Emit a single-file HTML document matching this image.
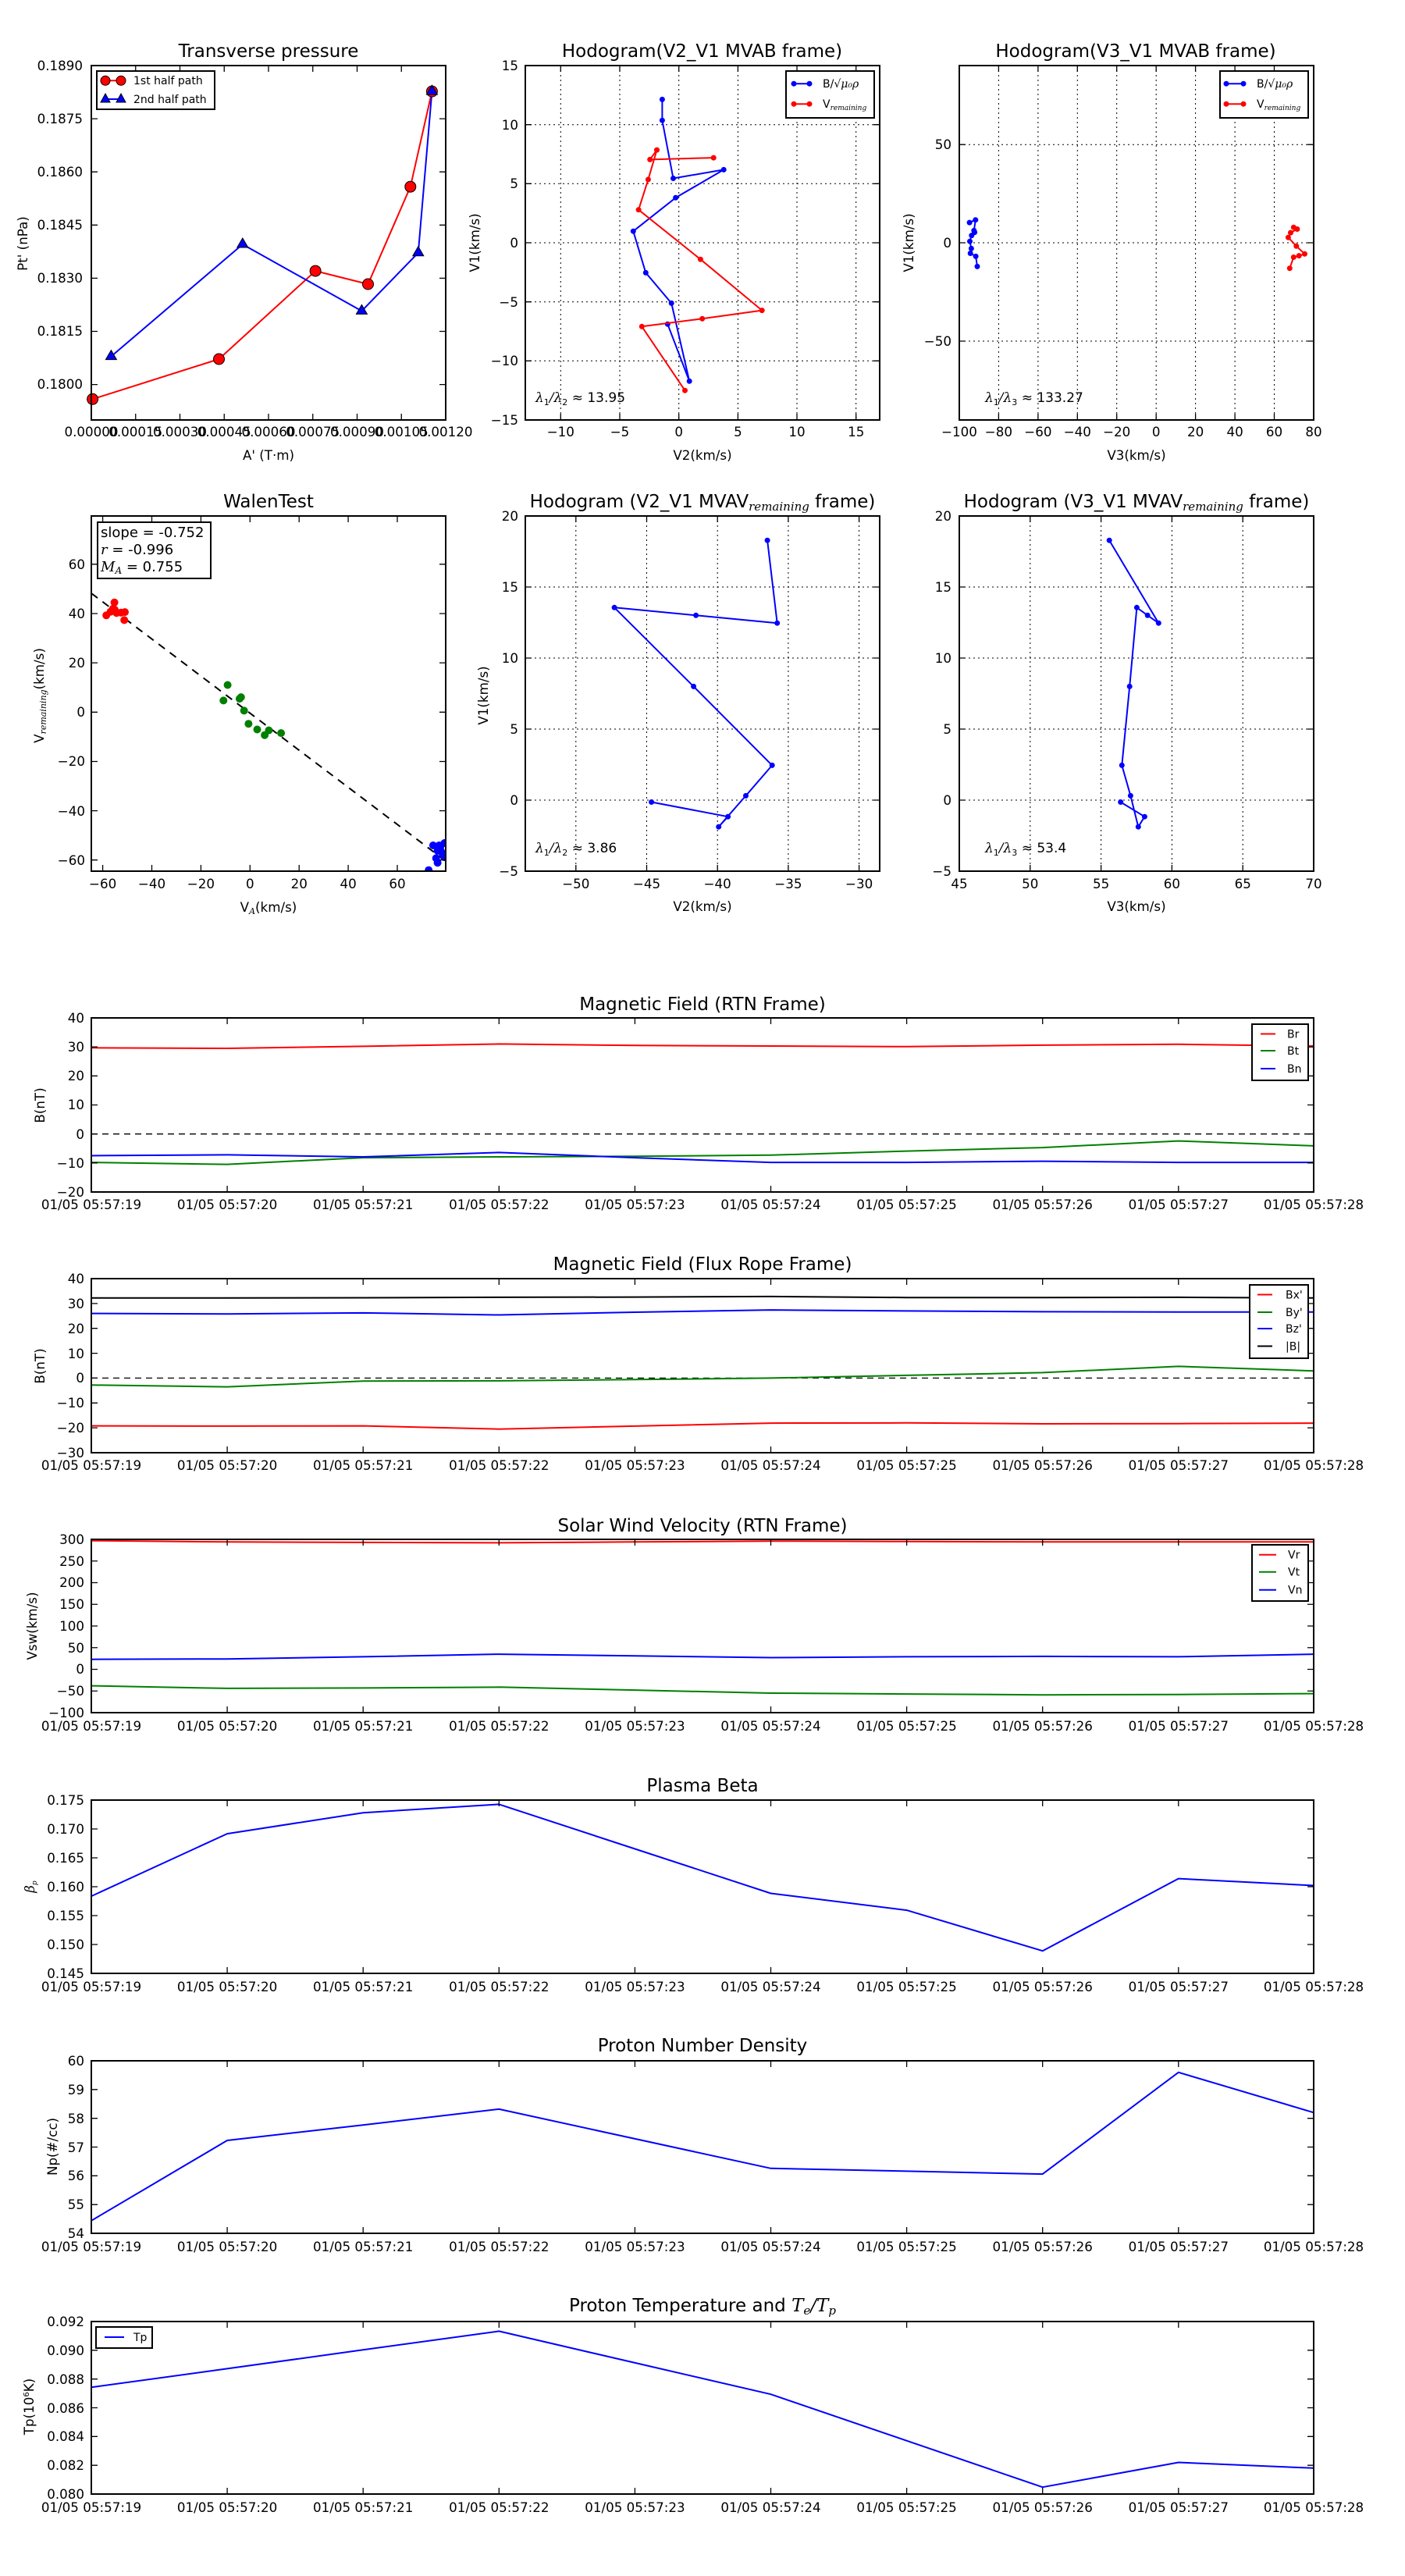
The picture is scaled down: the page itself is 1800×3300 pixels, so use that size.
<!DOCTYPE html>
<html><head><meta charset="utf-8"><style>
html,body{margin:0;padding:0;background:#fff}
svg{display:block}
text{font-family:"DejaVu Sans","Liberation Sans",sans-serif;fill:#000}
.t{font-size:23px;text-anchor:middle}
.k{font-size:16.7px}
.km{font-size:16.7px;text-anchor:middle}
.kr{font-size:16.7px;text-anchor:end}
.lb{font-size:16.7px;text-anchor:middle}
.fr{fill:none;stroke:#000;stroke-width:2}
.tk{fill:none;stroke:#000;stroke-width:1.3}
.gr{fill:none;stroke:#000;stroke-width:1;stroke-dasharray:2,4}
.s{fill:none;stroke-width:2;stroke-linejoin:round}
.m{font-family:"DejaVu Serif",serif;font-style:italic}
</style></head><body>
<svg width="1800" height="3300" viewBox="0 0 1800 3300" xmlns="http://www.w3.org/2000/svg">
<rect width="1800" height="3300" fill="#fff"/>

<!-- ===== Plot 1: Transverse pressure ===== -->
<text class="t" x="344" y="73">Transverse pressure</text>
<polyline class="s" stroke="#f00" points="118.6,511.3 280.5,460 404.1,347.1 471.5,364 525.8,239.2 553.4,117.1"/>
<polyline class="s" stroke="#00f" points="142.4,456.6 310.8,313 463.4,398.4 535.8,323.8 553.4,117.1"/>
<g fill="#f00" stroke="#000" stroke-width="1">
<circle cx="118.6" cy="511.3" r="7"/><circle cx="280.5" cy="460" r="7"/><circle cx="404.1" cy="347.1" r="7"/><circle cx="471.5" cy="364" r="7"/><circle cx="525.8" cy="239.2" r="7"/><circle cx="553.4" cy="117.1" r="7"/>
</g>
<g fill="#00f" stroke="#000" stroke-width="1">
<path d="M142.4,448.6 l7,12 h-14z"/><path d="M310.8,305 l7,12 h-14z"/><path d="M463.4,390.4 l7,12 h-14z"/><path d="M535.8,315.8 l7,12 h-14z"/><path d="M553.4,109.1 l7,12 h-14z"/>
</g>
<rect x="117" y="84" width="454" height="454" class="fr"/>
<path class="tk" d="M173.75,84v8M230.5,84v8M287.25,84v8M344,84v8M400.75,84v8M457.5,84v8M514.25,84v8M173.75,538v-8M230.5,538v-8M287.25,538v-8M344,538v-8M400.75,538v-8M457.5,538v-8M514.25,538v-8M117,152.1h8M117,220.2h8M117,288.3h8M117,356.4h8M117,424.5h8M117,492.6h8M571,152.1h-8M571,220.2h-8M571,288.3h-8M571,356.4h-8M571,424.5h-8M571,492.6h-8"/>
<g class="kr"><text x="106" y="90">0.1890</text><text x="106" y="158">0.1875</text><text x="106" y="226">0.1860</text><text x="106" y="294">0.1845</text><text x="106" y="362">0.1830</text><text x="106" y="430">0.1815</text><text x="106" y="498">0.1800</text></g>
<g class="km"><text x="117" y="559">0.00000</text><text x="173.75" y="559">0.00015</text><text x="230.5" y="559">0.00030</text><text x="287.25" y="559">0.00045</text><text x="344" y="559">0.00060</text><text x="400.75" y="559">0.00075</text><text x="457.5" y="559">0.00090</text><text x="514.25" y="559">0.00105</text><text x="571" y="559">0.00120</text></g>
<text class="lb" x="344" y="589">A' (T·m)</text>
<text class="lb" transform="translate(35,312) rotate(-90)">Pt' (nPa)</text>
<rect x="124" y="91" width="151" height="49" fill="#fff" stroke="#000" stroke-width="2"/>
<path d="M135,103.3h20M135,127h20" stroke="#f00" stroke-width="2"/>
<path d="M135,127h20" stroke="#00f" stroke-width="2"/>
<circle cx="135" cy="103.3" r="6" fill="#f00" stroke="#000"/><circle cx="155" cy="103.3" r="6" fill="#f00" stroke="#000"/>
<path d="M135,120 l6,11 h-12z M155,120 l6,11 h-12z" fill="#00f" stroke="#000"/>
<text x="171" y="108" font-size="14">1st half path</text>
<text x="171" y="132" font-size="14">2nd half path</text>

<!-- ===== Plot 2: Hodogram V2_V1 MVAB ===== -->
<text class="t" x="899.5" y="73">Hodogram(V2_V1 MVAB frame)</text>
<path class="gr" d="M718.3,84V538M794,84V538M869.7,84V538M945.4,84V538M1021,84V538M1096.7,84V538M673,159.7H1127M673,235.3H1127M673,311H1127M673,386.7H1127M673,462.3H1127"/>
<polyline class="s" stroke="#00f" points="848.4,127.4 848.4,154.2 862.5,228.5 927.2,217.4 865.6,253.3 811.3,296.2 827.3,349.4 860.2,388.4 883.2,488.3 855.3,415.2"/>
<g fill="#00f"><circle cx="848.4" cy="127.4" r="3.5"/><circle cx="848.4" cy="154.2" r="3.5"/><circle cx="862.5" cy="228.5" r="3.5"/><circle cx="927.2" cy="217.4" r="3.5"/><circle cx="865.6" cy="253.3" r="3.5"/><circle cx="811.3" cy="296.2" r="3.5"/><circle cx="827.3" cy="349.4" r="3.5"/><circle cx="860.2" cy="388.4" r="3.5"/><circle cx="883.2" cy="488.3" r="3.5"/><circle cx="855.3" cy="415.2" r="3.5"/></g>
<polyline class="s" stroke="#f00" points="914.2,202.1 832.7,204.4 841.5,192.1 830.4,230 818.1,268.7 897.4,332.2 976.2,397.6 899.7,408.3 822.3,418.3 877.5,500.2"/>
<g fill="#f00"><circle cx="914.2" cy="202.1" r="3.5"/><circle cx="832.7" cy="204.4" r="3.5"/><circle cx="841.5" cy="192.1" r="3.5"/><circle cx="830.4" cy="230" r="3.5"/><circle cx="818.1" cy="268.7" r="3.5"/><circle cx="897.4" cy="332.2" r="3.5"/><circle cx="976.2" cy="397.6" r="3.5"/><circle cx="899.7" cy="408.3" r="3.5"/><circle cx="822.3" cy="418.3" r="3.5"/><circle cx="877.5" cy="500.2" r="3.5"/></g>
<rect x="673" y="84" width="454" height="454" class="fr"/>
<path class="tk" d="M718.3,84v8M794,84v8M869.7,84v8M945.4,84v8M1021,84v8M1096.7,84v8M718.3,538v-8M794,538v-8M869.7,538v-8M945.4,538v-8M1021,538v-8M1096.7,538v-8M673,159.7h8M673,235.3h8M673,311h8M673,386.7h8M673,462.3h8M1127,159.7h-8M1127,235.3h-8M1127,311h-8M1127,386.7h-8M1127,462.3h-8"/>
<g class="kr"><text x="664" y="90">15</text><text x="664" y="166">10</text><text x="664" y="241">5</text><text x="664" y="317">0</text><text x="664" y="393">−5</text><text x="664" y="468">−10</text><text x="664" y="544">−15</text></g>
<g class="km"><text x="718.3" y="559">−10</text><text x="794" y="559">−5</text><text x="869.7" y="559">0</text><text x="945.4" y="559">5</text><text x="1021" y="559">10</text><text x="1096.7" y="559">15</text></g>
<text class="lb" x="900" y="589">V2(km/s)</text>
<text class="lb" transform="translate(614,311) rotate(-90)">V1(km/s)</text>
<text x="686" y="515" font-size="17"><tspan class="m">λ</tspan><tspan font-size="11" dy="4">1</tspan><tspan class="m" dy="-4">/λ</tspan><tspan font-size="11" dy="4">2</tspan><tspan dy="-4"> ≈ 13.95</tspan></text>
<rect x="1007" y="91" width="113" height="60" fill="#fff" stroke="#000" stroke-width="2"/>
<path d="M1017,107.2h20" stroke="#00f" stroke-width="2"/><circle cx="1017" cy="107.2" r="3.5" fill="#00f"/><circle cx="1037" cy="107.2" r="3.5" fill="#00f"/>
<path d="M1017,133.2h20" stroke="#f00" stroke-width="2"/><circle cx="1017" cy="133.2" r="3.5" fill="#f00"/><circle cx="1037" cy="133.2" r="3.5" fill="#f00"/>
<text x="1054" y="112" font-size="14">B/<tspan class="m">√μ₀ρ</tspan></text>
<text x="1054" y="138" font-size="14">V<tspan class="m" font-size="9" dy="3">remaining</tspan></text>

<!-- ===== Plot 3: Hodogram V3_V1 MVAB ===== -->
<text class="t" x="1455" y="73">Hodogram(V3_V1 MVAB frame)</text>
<path class="gr" d="M1279.4,84V538M1329.9,84V538M1380.3,84V538M1430.7,84V538M1481.2,84V538M1531.6,84V538M1582.1,84V538M1632.5,84V538M1229,185.2H1683M1229,311H1683M1229,437H1683"/>
<polyline class="s" stroke="#00f" points="1242.1,285.1 1249.8,281.7 1247.8,295.4 1248.6,297.7 1244.8,301.6 1242.5,309.2 1244.4,318.4 1243.2,324.5 1250.1,328.4 1252,341.4"/>
<g fill="#00f"><circle cx="1242.1" cy="285.1" r="3.5"/><circle cx="1249.8" cy="281.7" r="3.5"/><circle cx="1247.8" cy="295.4" r="3.5"/><circle cx="1248.6" cy="297.7" r="3.5"/><circle cx="1244.8" cy="301.6" r="3.5"/><circle cx="1242.5" cy="309.2" r="3.5"/><circle cx="1244.4" cy="318.4" r="3.5"/><circle cx="1243.2" cy="324.5" r="3.5"/><circle cx="1250.1" cy="328.4" r="3.5"/><circle cx="1252" cy="341.4" r="3.5"/></g>
<polyline class="s" stroke="#f00" points="1657.3,291.2 1661.9,293.5 1653.5,298.1 1650.4,304.2 1660.8,315.3 1671.5,325.3 1664.2,327.6 1657.3,329.5 1652.3,343.7"/>
<g fill="#f00"><circle cx="1657.3" cy="291.2" r="3.5"/><circle cx="1661.9" cy="293.5" r="3.5"/><circle cx="1653.5" cy="298.1" r="3.5"/><circle cx="1650.4" cy="304.2" r="3.5"/><circle cx="1660.8" cy="315.3" r="3.5"/><circle cx="1671.5" cy="325.3" r="3.5"/><circle cx="1664.2" cy="327.6" r="3.5"/><circle cx="1657.3" cy="329.5" r="3.5"/><circle cx="1652.3" cy="343.7" r="3.5"/></g>
<rect x="1229" y="84" width="454" height="454" class="fr"/>
<path class="tk" d="M1279.4,84v8M1329.9,84v8M1380.3,84v8M1430.7,84v8M1481.2,84v8M1531.6,84v8M1582.1,84v8M1632.5,84v8M1279.4,538v-8M1329.9,538v-8M1380.3,538v-8M1430.7,538v-8M1481.2,538v-8M1531.6,538v-8M1582.1,538v-8M1632.5,538v-8M1229,185.2h8M1229,311h8M1229,437h8M1683,185.2h-8M1683,311h-8M1683,437h-8"/>
<g class="kr"><text x="1219" y="191">50</text><text x="1219" y="317">0</text><text x="1219" y="443">−50</text></g>
<g class="km"><text x="1229" y="559">−100</text><text x="1279.4" y="559">−80</text><text x="1329.9" y="559">−60</text><text x="1380.3" y="559">−40</text><text x="1430.7" y="559">−20</text><text x="1481.2" y="559">0</text><text x="1531.6" y="559">20</text><text x="1582.1" y="559">40</text><text x="1632.5" y="559">60</text><text x="1683" y="559">80</text></g>
<text class="lb" x="1456" y="589">V3(km/s)</text>
<text class="lb" transform="translate(1170,311) rotate(-90)">V1(km/s)</text>
<text x="1262" y="515" font-size="17"><tspan class="m">λ</tspan><tspan font-size="11" dy="4">1</tspan><tspan class="m" dy="-4">/λ</tspan><tspan font-size="11" dy="4">3</tspan><tspan dy="-4"> ≈ 133.27</tspan></text>
<rect x="1563" y="91" width="113" height="60" fill="#fff" stroke="#000" stroke-width="2"/>
<path d="M1571,107.2h22" stroke="#00f" stroke-width="2"/><circle cx="1571" cy="107.2" r="3.5" fill="#00f"/><circle cx="1593" cy="107.2" r="3.5" fill="#00f"/>
<path d="M1571,133.2h22" stroke="#f00" stroke-width="2"/><circle cx="1571" cy="133.2" r="3.5" fill="#f00"/><circle cx="1593" cy="133.2" r="3.5" fill="#f00"/>
<text x="1610" y="112" font-size="14">B/<tspan class="m">√μ₀ρ</tspan></text>
<text x="1610" y="138" font-size="14">V<tspan class="m" font-size="9" dy="3">remaining</tspan></text>

<!-- ===== Walen test ===== -->
<text class="t" x="344" y="650">WalenTest</text>
<svg x="117" y="661" width="454" height="455" overflow="hidden">
<line x1="0" y1="99" x2="454" y2="442" stroke="#000" stroke-width="2" stroke-dasharray="10,8"/>
<g fill="#f00" transform="translate(-117,-661)"><circle cx="136.2" cy="788.3" r="5"/><circle cx="146.6" cy="771.8" r="5"/><circle cx="144.7" cy="779.9" r="5"/><circle cx="141.6" cy="783.7" r="5"/><circle cx="149.3" cy="785.2" r="5"/><circle cx="155" cy="784.8" r="5"/><circle cx="160" cy="784.1" r="5"/><circle cx="159.2" cy="794.4" r="5"/><circle cx="147" cy="781" r="5"/></g>
<g fill="#008000" transform="translate(-117,-661)"><circle cx="291.6" cy="877.5" r="5"/><circle cx="286.3" cy="897.4" r="5"/><circle cx="306.9" cy="895.1" r="5"/><circle cx="308.8" cy="893.1" r="5"/><circle cx="312.7" cy="910.4" r="5"/><circle cx="318.4" cy="927.2" r="5"/><circle cx="329.5" cy="934.5" r="5"/><circle cx="339.1" cy="941.7" r="5"/><circle cx="344.4" cy="935.6" r="5"/><circle cx="360.1" cy="939.1" r="5"/></g>
<g fill="#00f" transform="translate(-117,-661)"><circle cx="554.9" cy="1083" r="5"/><circle cx="562.6" cy="1083" r="5"/><circle cx="569.5" cy="1080" r="5"/><circle cx="560.6" cy="1089.9" r="5"/><circle cx="566" cy="1092" r="5"/><circle cx="558.7" cy="1099.4" r="5"/><circle cx="560.6" cy="1105.2" r="5"/><circle cx="569" cy="1098" r="5"/><circle cx="549.2" cy="1114.7" r="5"/><circle cx="564" cy="1086" r="5"/></g>
</svg>
<rect x="117" y="661" width="454" height="455" class="fr"/>
<path class="tk" d="M131.6,661v8M194.5,661v8M257.4,661v8M320.3,661v8M383.2,661v8M446.1,661v8M509,661v8M131.6,1116v-8M194.5,1116v-8M257.4,1116v-8M320.3,1116v-8M383.2,1116v-8M446.1,1116v-8M509,1116v-8M117,722.8h8M117,786h8M117,849.1h8M117,912.3h8M117,975.5h8M117,1038.6h8M117,1101.7h8M571,722.8h-8M571,786h-8M571,849.1h-8M571,912.3h-8M571,975.5h-8M571,1038.6h-8M571,1101.7h-8"/>
<g class="kr"><text x="109" y="729">60</text><text x="109" y="792">40</text><text x="109" y="855">20</text><text x="109" y="918">0</text><text x="109" y="981">−20</text><text x="109" y="1045">−40</text><text x="109" y="1108">−60</text></g>
<g class="km"><text x="131.6" y="1138">−60</text><text x="194.5" y="1138">−40</text><text x="257.4" y="1138">−20</text><text x="320.3" y="1138">0</text><text x="383.2" y="1138">20</text><text x="446.1" y="1138">40</text><text x="509" y="1138">60</text></g>
<text class="lb" x="344" y="1168">V<tspan class="m" font-size="11" dy="3">A</tspan><tspan dy="-3">(km/s)</tspan></text>
<text class="lb" transform="translate(56,891) rotate(-90)">V<tspan class="m" font-size="11" dy="3">remaining</tspan><tspan dy="-3">(km/s)</tspan></text>
<rect x="125" y="669" width="145" height="72" fill="#fff" stroke="#000" stroke-width="2"/>
<text x="129" y="688" font-size="18">slope = -0.752</text>
<text x="129" y="710" font-size="18"><tspan class="m">r</tspan> = -0.996</text>
<text x="129" y="732" font-size="18"><tspan class="m">M</tspan><tspan class="m" font-size="12" dy="3">A</tspan><tspan dy="-3"> = 0.755</tspan></text>

<!-- ===== Hodogram V2_V1 MVAV ===== -->
<text class="t" x="900" y="650">Hodogram (V2_V1 MVAV<tspan class="m" font-size="15" dy="4">remaining</tspan><tspan dy="-4"> frame)</tspan></text>
<path class="gr" d="M737.8,661V1116M828.5,661V1116M919.2,661V1116M1009.9,661V1116M1100.6,661V1116M673,752H1127M673,843H1127M673,934H1127M673,1025H1127"/>
<polyline class="s" stroke="#00f" points="983.1,692.2 995.7,798.2 891.6,788.3 787.1,778.3 888.6,879.4 989.2,980.4 955.5,1019.4 920.7,1059.2 932.6,1046.2 834.6,1027.5"/>
<g fill="#00f"><circle cx="983.1" cy="692.2" r="3.5"/><circle cx="995.7" cy="798.2" r="3.5"/><circle cx="891.6" cy="788.3" r="3.5"/><circle cx="787.1" cy="778.3" r="3.5"/><circle cx="888.6" cy="879.4" r="3.5"/><circle cx="989.2" cy="980.4" r="3.5"/><circle cx="955.5" cy="1019.4" r="3.5"/><circle cx="920.7" cy="1059.2" r="3.5"/><circle cx="932.6" cy="1046.2" r="3.5"/><circle cx="834.6" cy="1027.5" r="3.5"/></g>
<rect x="673" y="661" width="454" height="455" class="fr"/>
<path class="tk" d="M737.8,661v8M828.5,661v8M919.2,661v8M1009.9,661v8M1100.6,661v8M737.8,1116v-8M828.5,1116v-8M919.2,1116v-8M1009.9,1116v-8M1100.6,1116v-8M673,752h8M673,843h8M673,934h8M673,1025h8M1127,752h-8M1127,843h-8M1127,934h-8M1127,1025h-8"/>
<g class="kr"><text x="664" y="667">20</text><text x="664" y="758">15</text><text x="664" y="849">10</text><text x="664" y="940">5</text><text x="664" y="1031">0</text><text x="664" y="1122">−5</text></g>
<g class="km"><text x="737.8" y="1138">−50</text><text x="828.5" y="1138">−45</text><text x="919.2" y="1138">−40</text><text x="1009.9" y="1138">−35</text><text x="1100.6" y="1138">−30</text></g>
<text class="lb" x="900" y="1167">V2(km/s)</text>
<text class="lb" transform="translate(625,891) rotate(-90)">V1(km/s)</text>
<text x="686" y="1092" font-size="17"><tspan class="m">λ</tspan><tspan font-size="11" dy="4">1</tspan><tspan class="m" dy="-4">/λ</tspan><tspan font-size="11" dy="4">2</tspan><tspan dy="-4"> ≈ 3.86</tspan></text>

<!-- ===== Hodogram V3_V1 MVAV ===== -->
<text class="t" x="1456" y="650">Hodogram (V3_V1 MVAV<tspan class="m" font-size="15" dy="4">remaining</tspan><tspan dy="-4"> frame)</tspan></text>
<path class="gr" d="M1319.8,661V1116M1410.6,661V1116M1501.4,661V1116M1592.2,661V1116M1229,752H1683M1229,843H1683M1229,934H1683M1229,1025H1683"/>
<polyline class="s" stroke="#00f" points="1421.2,692.2 1484.3,798.2 1470.2,788.3 1456.4,778.3 1447.2,879.4 1437.3,980.4 1448.4,1019.4 1458.3,1059.2 1466.4,1046.2 1435.7,1027.5"/>
<g fill="#00f"><circle cx="1421.2" cy="692.2" r="3.5"/><circle cx="1484.3" cy="798.2" r="3.5"/><circle cx="1470.2" cy="788.3" r="3.5"/><circle cx="1456.4" cy="778.3" r="3.5"/><circle cx="1447.2" cy="879.4" r="3.5"/><circle cx="1437.3" cy="980.4" r="3.5"/><circle cx="1448.4" cy="1019.4" r="3.5"/><circle cx="1458.3" cy="1059.2" r="3.5"/><circle cx="1466.4" cy="1046.2" r="3.5"/><circle cx="1435.7" cy="1027.5" r="3.5"/></g>
<rect x="1229" y="661" width="454" height="455" class="fr"/>
<path class="tk" d="M1319.8,661v8M1410.6,661v8M1501.4,661v8M1592.2,661v8M1319.8,1116v-8M1410.6,1116v-8M1501.4,1116v-8M1592.2,1116v-8M1229,752h8M1229,843h8M1229,934h8M1229,1025h8M1683,752h-8M1683,843h-8M1683,934h-8M1683,1025h-8"/>
<g class="kr"><text x="1219" y="667">20</text><text x="1219" y="758">15</text><text x="1219" y="849">10</text><text x="1219" y="940">5</text><text x="1219" y="1031">0</text><text x="1219" y="1122">−5</text></g>
<g class="km"><text x="1229" y="1138">45</text><text x="1319.8" y="1138">50</text><text x="1410.6" y="1138">55</text><text x="1501.4" y="1138">60</text><text x="1592.2" y="1138">65</text><text x="1683" y="1138">70</text></g>
<text class="lb" x="1456" y="1167">V3(km/s)</text>
<text x="1262" y="1092" font-size="17"><tspan class="m">λ</tspan><tspan font-size="11" dy="4">1</tspan><tspan class="m" dy="-4">/λ</tspan><tspan font-size="11" dy="4">3</tspan><tspan dy="-4"> ≈ 53.4</tspan></text>

<!-- ===== Time series common ===== -->
<defs>
<path id="xt" d="M291.1,0v8M465.2,0v8M639.3,0v8M813.4,0v8M987.5,0v8M1161.6,0v8M1335.7,0v8M1509.8,0v8"/>
</defs>

<!-- Panel: MF RTN -->
<text class="t" x="900" y="1294">Magnetic Field (RTN Frame)</text>
<line x1="117" y1="1452.7" x2="1683" y2="1452.7" stroke="#000" stroke-width="1.3" stroke-dasharray="8,6"/>
<polyline class="s" stroke="#f00" points="117,1342.3 291.1,1343 465.2,1340.4 639.3,1337.4 813.4,1339.3 987.5,1340 1161.6,1340.8 1335.7,1338.9 1509.8,1337.8 1683,1340"/>
<polyline class="s" stroke="#008000" points="117,1489.1 291.1,1491.6 465.2,1483.1 639.3,1482 813.4,1481.3 987.5,1479.8 1161.6,1474.6 1335.7,1470.1 1509.8,1461.6 1683,1467.9"/>
<polyline class="s" stroke="#00f" points="117,1480.5 291.1,1479.4 465.2,1482 639.3,1476.4 813.4,1483.1 987.5,1489.1 1161.6,1489.1 1335.7,1487.6 1509.8,1489.1 1683,1489.1"/>
<rect x="117" y="1304" width="1566" height="223" class="fr"/>
<use href="#xt" class="tk" transform="translate(0,1304)"/><use href="#xt" class="tk" transform="translate(0,1527) scale(1,-1)"/>
<path class="tk" d="M117,1341.2h8M117,1378.3h8M117,1415.5h8M117,1452.7h8M117,1489.8h8M1683,1341.2h-8M1683,1378.3h-8M1683,1415.5h-8M1683,1452.7h-8M1683,1489.8h-8"/>
<g class="kr"><text x="108" y="1310">40</text><text x="108" y="1347">30</text><text x="108" y="1384">20</text><text x="108" y="1421">10</text><text x="108" y="1459">0</text><text x="108" y="1496">−10</text><text x="108" y="1533">−20</text></g>
<g class="km"><text x="117" y="1549">01/05 05:57:19</text><text x="291.1" y="1549">01/05 05:57:20</text><text x="465.2" y="1549">01/05 05:57:21</text><text x="639.3" y="1549">01/05 05:57:22</text><text x="813.4" y="1549">01/05 05:57:23</text><text x="987.5" y="1549">01/05 05:57:24</text><text x="1161.6" y="1549">01/05 05:57:25</text><text x="1335.7" y="1549">01/05 05:57:26</text><text x="1509.8" y="1549">01/05 05:57:27</text><text x="1683" y="1549">01/05 05:57:28</text></g>
<text class="lb" transform="translate(57,1416) rotate(-90)" font-size="15">B(nT)</text>
<rect x="1604" y="1312" width="72" height="72" fill="#fff" stroke="#000" stroke-width="2"/>
<path d="M1615,1324.5h19" stroke="#f00" stroke-width="2"/><path d="M1615,1346h19" stroke="#008000" stroke-width="2"/><path d="M1615,1369h19" stroke="#00f" stroke-width="2"/>
<g font-size="14"><text x="1649" y="1329.5">Br</text><text x="1649" y="1351">Bt</text><text x="1649" y="1374">Bn</text></g>

<!-- Panel: Flux rope -->
<text class="t" x="900" y="1627">Magnetic Field (Flux Rope Frame)</text>
<line x1="117" y1="1765.4" x2="1683" y2="1765.4" stroke="#000" stroke-width="1.3" stroke-dasharray="8,6"/>
<polyline class="s" stroke="#000" points="117,1662.8 291.1,1662.8 465.2,1662.5 639.3,1661.9 813.4,1661.6 987.5,1660.9 1161.6,1662.2 1335.7,1662.2 1509.8,1661.9 1683,1662.8"/>
<polyline class="s" stroke="#00f" points="117,1682.6 291.1,1683.2 465.2,1681.9 639.3,1684.5 813.4,1681 987.5,1678.1 1161.6,1679.4 1335.7,1680.4 1509.8,1680.7 1683,1680.7"/>
<polyline class="s" stroke="#008000" points="117,1774.3 291.1,1776.6 465.2,1769.2 639.3,1768.9 813.4,1767.3 987.5,1765.4 1161.6,1761.9 1335.7,1758.4 1509.8,1750.4 1683,1756.2"/>
<polyline class="s" stroke="#f00" points="117,1826.6 291.1,1826.9 465.2,1826.6 639.3,1830.7 813.4,1826.9 987.5,1823.1 1161.6,1822.8 1335.7,1824 1509.8,1823.7 1683,1823.1"/>
<rect x="117" y="1638" width="1566" height="223" class="fr"/>
<use href="#xt" class="tk" transform="translate(0,1638)"/><use href="#xt" class="tk" transform="translate(0,1861) scale(1,-1)"/>
<path class="tk" d="M117,1669.9h8M117,1701.7h8M117,1733.6h8M117,1765.4h8M117,1797.3h8M117,1829.1h8M1683,1669.9h-8M1683,1701.7h-8M1683,1733.6h-8M1683,1765.4h-8M1683,1797.3h-8M1683,1829.1h-8"/>
<g class="kr"><text x="108" y="1644">40</text><text x="108" y="1676">30</text><text x="108" y="1708">20</text><text x="108" y="1740">10</text><text x="108" y="1771">0</text><text x="108" y="1803">−10</text><text x="108" y="1835">−20</text><text x="108" y="1867">−30</text></g>
<g class="km"><text x="117" y="1883">01/05 05:57:19</text><text x="291.1" y="1883">01/05 05:57:20</text><text x="465.2" y="1883">01/05 05:57:21</text><text x="639.3" y="1883">01/05 05:57:22</text><text x="813.4" y="1883">01/05 05:57:23</text><text x="987.5" y="1883">01/05 05:57:24</text><text x="1161.6" y="1883">01/05 05:57:25</text><text x="1335.7" y="1883">01/05 05:57:26</text><text x="1509.8" y="1883">01/05 05:57:27</text><text x="1683" y="1883">01/05 05:57:28</text></g>
<text class="lb" transform="translate(57,1750) rotate(-90)" font-size="15">B(nT)</text>
<rect x="1601" y="1646" width="75" height="94" fill="#fff" stroke="#000" stroke-width="2"/>
<path d="M1611,1658.5h19" stroke="#f00" stroke-width="2"/><path d="M1611,1681h19" stroke="#008000" stroke-width="2"/><path d="M1611,1702h19" stroke="#00f" stroke-width="2"/><path d="M1611,1724.5h19" stroke="#000" stroke-width="2"/>
<g font-size="14"><text x="1647" y="1663.5">Bx'</text><text x="1647" y="1686">By'</text><text x="1647" y="1707">Bz'</text><text x="1647" y="1729.5">|B|</text></g>

<!-- Panel: SWV -->
<text class="t" x="900" y="1962">Solar Wind Velocity (RTN Frame)</text>
<polyline class="s" stroke="#f00" points="117,1973.7 291.1,1975.3 465.2,1975.9 639.3,1976.4 813.4,1975.3 987.5,1974.2 1161.6,1974.8 1335.7,1975.3 1509.8,1975.3 1683,1975.3"/>
<polyline class="s" stroke="#00f" points="117,2125.7 291.1,2125.2 465.2,2122.4 639.3,2119.1 813.4,2121.3 987.5,2123.5 1161.6,2122.4 1335.7,2121.9 1509.8,2122.4 1683,2119.1"/>
<polyline class="s" stroke="#008000" points="117,2159.6 291.1,2162.9 465.2,2162.4 639.3,2161.3 813.4,2165.1 987.5,2169 1161.6,2170.1 1335.7,2171.2 1509.8,2170.7 1683,2169.6"/>
<rect x="117" y="1972" width="1566" height="222" class="fr"/>
<use href="#xt" class="tk" transform="translate(0,1972)"/><use href="#xt" class="tk" transform="translate(0,2194) scale(1,-1)"/>
<path class="tk" d="M117,1999.75h8M117,2027.5h8M117,2055.25h8M117,2083h8M117,2110.75h8M117,2138.5h8M117,2166.25h8M1683,1999.75h-8M1683,2027.5h-8M1683,2055.25h-8M1683,2083h-8M1683,2110.75h-8M1683,2138.5h-8M1683,2166.25h-8"/>
<g class="kr"><text x="108" y="1978">300</text><text x="108" y="2006">250</text><text x="108" y="2033">200</text><text x="108" y="2061">150</text><text x="108" y="2089">100</text><text x="108" y="2117">50</text><text x="108" y="2144">0</text><text x="108" y="2172">−50</text><text x="108" y="2200">−100</text></g>
<g class="km"><text x="117" y="2217">01/05 05:57:19</text><text x="291.1" y="2217">01/05 05:57:20</text><text x="465.2" y="2217">01/05 05:57:21</text><text x="639.3" y="2217">01/05 05:57:22</text><text x="813.4" y="2217">01/05 05:57:23</text><text x="987.5" y="2217">01/05 05:57:24</text><text x="1161.6" y="2217">01/05 05:57:25</text><text x="1335.7" y="2217">01/05 05:57:26</text><text x="1509.8" y="2217">01/05 05:57:27</text><text x="1683" y="2217">01/05 05:57:28</text></g>
<text class="lb" transform="translate(47,2083) rotate(-90)" font-size="15.5">Vsw(km/s)</text>
<rect x="1604" y="1979" width="72" height="72" fill="#fff" stroke="#000" stroke-width="2"/>
<path d="M1613,1991.7h22" stroke="#f00" stroke-width="2"/><path d="M1613,2013.7h22" stroke="#008000" stroke-width="2"/><path d="M1613,2036.7h22" stroke="#00f" stroke-width="2"/>
<g font-size="14"><text x="1650" y="1996.7">Vr</text><text x="1650" y="2018.7">Vt</text><text x="1650" y="2041.7">Vn</text></g>

<!-- Panel: Beta -->
<text class="t" x="900" y="2295">Plasma Beta</text>
<polyline class="s" stroke="#00f" points="117,2429.1 291.1,2349.1 465.2,2322.2 639.3,2311.4 813.4,2368.5 987.5,2425.5 1161.6,2447.1 1335.7,2499.2 1509.8,2406.6 1683,2415.5"/>
<rect x="117" y="2306" width="1566" height="222" class="fr"/>
<use href="#xt" class="tk" transform="translate(0,2306)"/><use href="#xt" class="tk" transform="translate(0,2528) scale(1,-1)"/>
<path class="tk" d="M117,2343h8M117,2380h8M117,2417h8M117,2454h8M117,2491h8M1683,2343h-8M1683,2380h-8M1683,2417h-8M1683,2454h-8M1683,2491h-8"/>
<g class="kr"><text x="108" y="2312">0.175</text><text x="108" y="2349">0.170</text><text x="108" y="2386">0.165</text><text x="108" y="2423">0.160</text><text x="108" y="2460">0.155</text><text x="108" y="2497">0.150</text><text x="108" y="2534">0.145</text></g>
<g class="km"><text x="117" y="2551">01/05 05:57:19</text><text x="291.1" y="2551">01/05 05:57:20</text><text x="465.2" y="2551">01/05 05:57:21</text><text x="639.3" y="2551">01/05 05:57:22</text><text x="813.4" y="2551">01/05 05:57:23</text><text x="987.5" y="2551">01/05 05:57:24</text><text x="1161.6" y="2551">01/05 05:57:25</text><text x="1335.7" y="2551">01/05 05:57:26</text><text x="1509.8" y="2551">01/05 05:57:27</text><text x="1683" y="2551">01/05 05:57:28</text></g>
<text class="lb" transform="translate(44,2417) rotate(-90)" font-size="14"><tspan class="m">β</tspan><tspan class="m" font-size="9" dy="3">p</tspan></text>

<!-- Panel: Density -->
<text class="t" x="900" y="2628">Proton Number Density</text>
<polyline class="s" stroke="#00f" points="117,2844.8 291.1,2742 465.2,2722.2 639.3,2701.9 813.4,2739.9 987.5,2777.8 1161.6,2781.4 1335.7,2785.1 1509.8,2654.8 1683,2706.3"/>
<rect x="117" y="2640" width="1566" height="221" class="fr"/>
<use href="#xt" class="tk" transform="translate(0,2640)"/><use href="#xt" class="tk" transform="translate(0,2861) scale(1,-1)"/>
<path class="tk" d="M117,2676.8h8M117,2713.7h8M117,2750.5h8M117,2787.3h8M117,2824.2h8M1683,2676.8h-8M1683,2713.7h-8M1683,2750.5h-8M1683,2787.3h-8M1683,2824.2h-8"/>
<g class="kr"><text x="108" y="2646">60</text><text x="108" y="2683">59</text><text x="108" y="2720">58</text><text x="108" y="2757">57</text><text x="108" y="2793">56</text><text x="108" y="2830">55</text><text x="108" y="2867">54</text></g>
<g class="km"><text x="117" y="2884">01/05 05:57:19</text><text x="291.1" y="2884">01/05 05:57:20</text><text x="465.2" y="2884">01/05 05:57:21</text><text x="639.3" y="2884">01/05 05:57:22</text><text x="813.4" y="2884">01/05 05:57:23</text><text x="987.5" y="2884">01/05 05:57:24</text><text x="1161.6" y="2884">01/05 05:57:25</text><text x="1335.7" y="2884">01/05 05:57:26</text><text x="1509.8" y="2884">01/05 05:57:27</text><text x="1683" y="2884">01/05 05:57:28</text></g>
<text class="lb" transform="translate(73,2750) rotate(-90)" font-size="15.5">Np(#/cc)</text>

<!-- Panel: Temperature -->
<text class="t" x="900" y="2961">Proton Temperature and <tspan class="m">T</tspan><tspan class="m" font-size="15" dy="4">e</tspan><tspan class="m" dy="-4">/T</tspan><tspan class="m" font-size="15" dy="4">p</tspan></text>
<polyline class="s" stroke="#00f" points="117,3058.3 291.1,3034.4 465.2,3010.3 639.3,2986.4 813.4,3026.9 987.5,3067.2 1161.6,3126.7 1335.7,3186.2 1509.8,3154.5 1683,3161.8"/>
<rect x="117" y="2974" width="1566" height="221" class="fr"/>
<use href="#xt" class="tk" transform="translate(0,2974)"/><use href="#xt" class="tk" transform="translate(0,3195) scale(1,-1)"/>
<path class="tk" d="M117,3010.8h8M117,3047.7h8M117,3084.5h8M117,3121.3h8M117,3158.2h8M1683,3010.8h-8M1683,3047.7h-8M1683,3084.5h-8M1683,3121.3h-8M1683,3158.2h-8"/>
<g class="kr"><text x="108" y="2980">0.092</text><text x="108" y="3017">0.090</text><text x="108" y="3054">0.088</text><text x="108" y="3091">0.086</text><text x="108" y="3127">0.084</text><text x="108" y="3164">0.082</text><text x="108" y="3201">0.080</text></g>
<g class="km"><text x="117" y="3218">01/05 05:57:19</text><text x="291.1" y="3218">01/05 05:57:20</text><text x="465.2" y="3218">01/05 05:57:21</text><text x="639.3" y="3218">01/05 05:57:22</text><text x="813.4" y="3218">01/05 05:57:23</text><text x="987.5" y="3218">01/05 05:57:24</text><text x="1161.6" y="3218">01/05 05:57:25</text><text x="1335.7" y="3218">01/05 05:57:26</text><text x="1509.8" y="3218">01/05 05:57:27</text><text x="1683" y="3218">01/05 05:57:28</text></g>
<text class="lb" transform="translate(43,3083) rotate(-90)" font-size="15">Tp(10<tspan font-size="10" dy="-6">6</tspan><tspan dy="6">K)</tspan></text>
<rect x="123" y="2981" width="72" height="27" fill="#fff" stroke="#000" stroke-width="2"/>
<path d="M134,2994h25" stroke="#00f" stroke-width="2"/>
<text x="171" y="2999" font-size="14">Tp</text>
</svg>
</body></html>
